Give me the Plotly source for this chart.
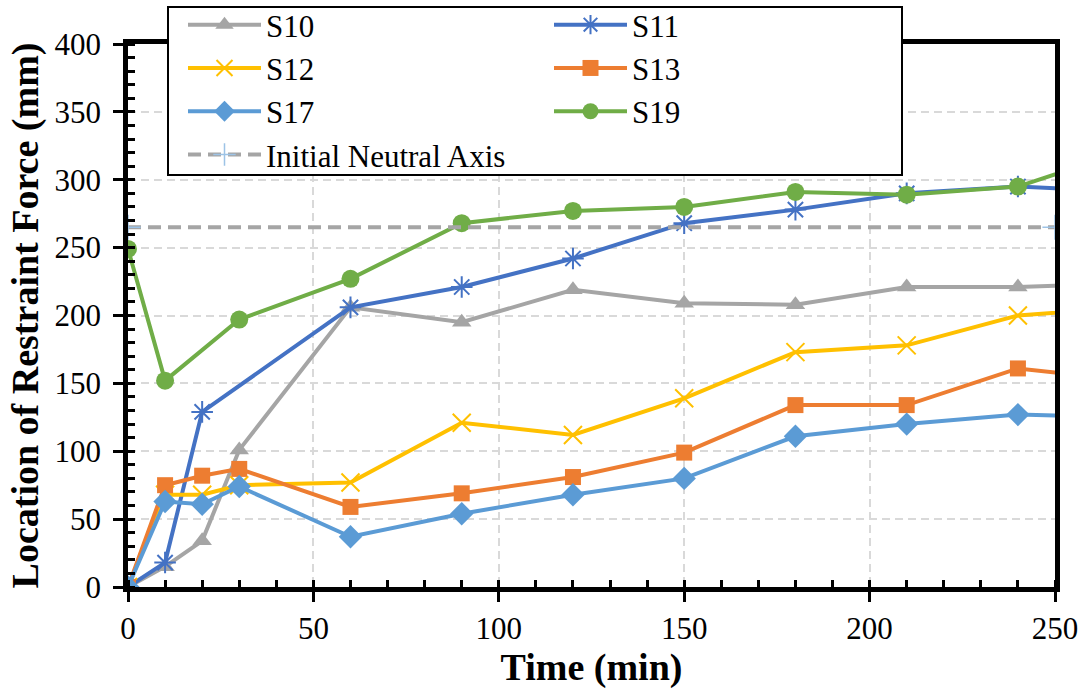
import plotly.graph_objects as go

# Sampling times (min); the final reading lies just past the plotted range
times = [0, 10, 20, 30, 60, 90, 120, 150, 180, 210, 240, 270]

# Location of the restraint force (mm) for each specimen
s10 = [0, 15, 34, 101, 206, 195, 219, 209, 208, 221, 221, 224]
s11 = [0, 18, 129, None, 206, 221, 242, 268, 278, 290, 295, 291]
s12 = [0, 68, 68, 75, 77, 121, 112, 139, 173, 178, 200, 206]
s13 = [0, 75, 82, 87, 59, 69, 81, 99, 134, 134, 161, 152]
s17 = [0, 63, 61, 74, 37, 54, 68, 80, 111, 120, 127, 125]
s19 = [249, 152, None, 197, 227, 268, 277, 280, 291, 289, 295, 322]

# Initial neutral axis position (mm)
neutral_x = [0, 250]
neutral_y = [265, 265]

x_ticks = [0, 50, 100, 150, 200, 250]
y_ticks = [0, 50, 100, 150, 200, 250, 300, 350, 400]

FONT = "Liberation Serif, Times New Roman, serif"

# Plot area geometry in pixels, used to place the legend frame
W, H = 1084, 696
ML, MR, MT, MB = 128, 29, 44, 109
PW, PH = W - ML - MR, H - MT - MB


def px_x(p):
    return (p - ML) / PW


def px_y(p):
    return (H - MB - p) / PH


series = [
    ("S10", s10, "#A5A5A5", "triangle-up", 17, 0),
    ("S11", s11, "#4472C4", "asterisk-open", 18, 2),
    ("S12", s12, "#FFC000", "x-thin-open", 18, 2),
    ("S13", s13, "#ED7D31", "square", 16, 0),
    ("S17", s17, "#5B9BD5", "diamond", 18, 0),
    ("S19", s19, "#70AD47", "circle", 18, 0),
]

fig = go.Figure()
for name, vals, color, sym, size, mlw in series:
    fig.add_trace(go.Scatter(
        x=times, y=vals, name=name, mode="lines+markers",
        connectgaps=True,
        line=dict(color=color, width=4),
        marker=dict(symbol=sym, size=size, color=color,
                    line=dict(color=color, width=mlw)),
    ))

fig.add_trace(go.Scatter(
    x=neutral_x, y=neutral_y, name="Initial Neutral Axis", mode="lines+markers",
    line=dict(color="#A5A5A5", width=4, dash="13px,7px"),
    marker=dict(symbol="cross-thin-open", size=18, color="#9DC3E6",
                line=dict(color="#9DC3E6", width=1.5)),
))

axis_common = dict(
    showline=True, linecolor="black", linewidth=4.5, mirror=True,
    ticks="outside", ticklen=10, tickwidth=3, tickcolor="black",
    showgrid=True, gridcolor="#D9D9D9", gridwidth=1.5, griddash="8px,5px",
    zeroline=False,
    tickfont=dict(family=FONT, size=31, color="black"),
    minor=dict(dtick=10, ticks="inside", ticklen=7, tickwidth=2.5,
               tickcolor="black", showgrid=False),
)

fig.update_xaxes(
    range=[0, 250], tickvals=x_ticks, ticktext=[str(v) for v in x_ticks],
    title=dict(text="<b>Time (min)</b>", font=dict(family=FONT, size=38, color="black"),
               standoff=8),
    ticklabelstandoff=0,
    **axis_common,
)
fig.update_yaxes(
    range=[0, 400], tickvals=y_ticks, ticktext=[str(v) for v in y_ticks],
    title=dict(text="<b>Location of Restraint Force (mm)</b>",
               font=dict(family=FONT, size=38, color="black"), standoff=6),
    ticklabelstandoff=6,
    **axis_common,
)

# Legend frame
fig.add_shape(
    type="rect", xref="paper", yref="paper", layer="above",
    x0=px_x(168), x1=px_x(902), y0=px_y(175), y1=px_y(7),
    fillcolor="white", line=dict(color="black", width=2),
)

fig.update_layout(
    width=W, height=H,
    margin=dict(l=ML, r=MR, t=MT, b=MB, autoexpand=False),
    paper_bgcolor="white", plot_bgcolor="white",
    font=dict(family=FONT, color="black"),
    legend=dict(
        orientation="h", x=px_x(183), y=px_y(-2), xanchor="left", yanchor="top",
        bgcolor="rgba(0,0,0,0)", borderwidth=0,
        font=dict(family=FONT, size=31, color="black"),
        itemwidth=73, entrywidth=278, tracegroupgap=0,
    ),
)

fig.write_html("out.html")
